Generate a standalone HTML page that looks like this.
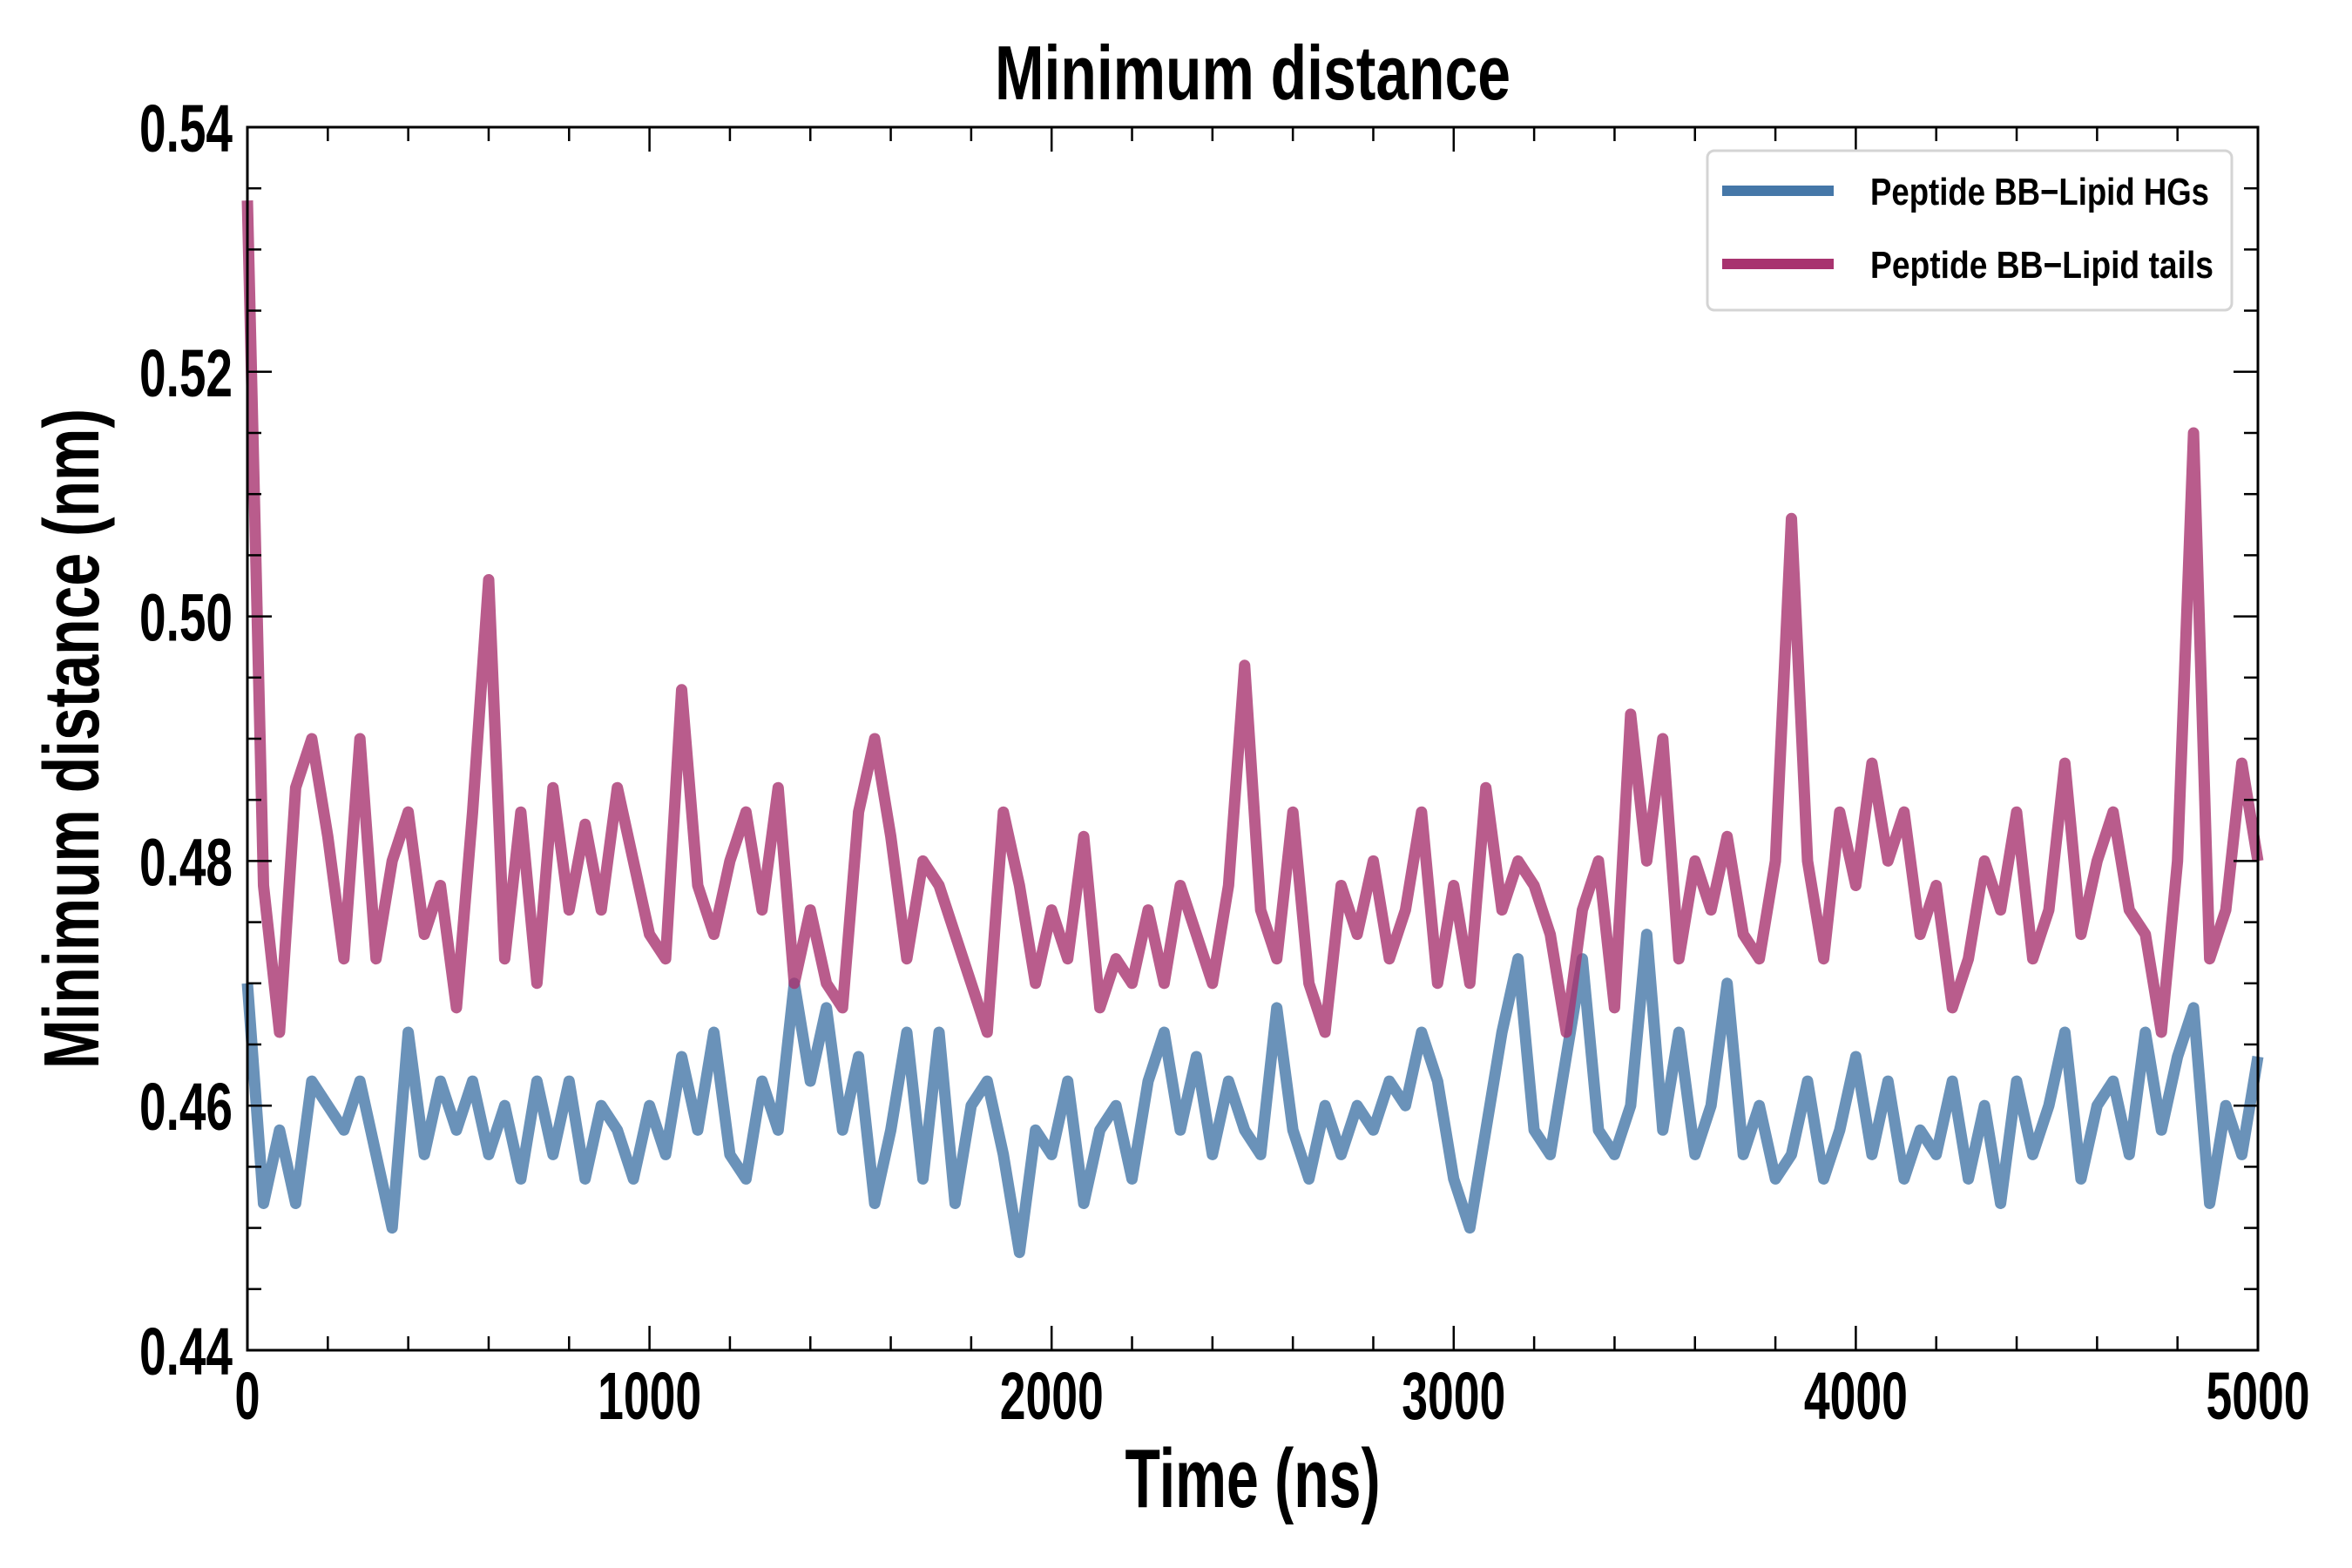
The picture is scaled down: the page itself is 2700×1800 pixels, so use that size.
<!DOCTYPE html>
<html><head><meta charset="utf-8"><style>
html,body{margin:0;padding:0;background:#fff;}
svg{display:block;}
text{font-family:"Liberation Sans",sans-serif;font-weight:bold;fill:#000;}
</style></head><body>
<svg id="chart" width="2700" height="1800" viewBox="0 0 2700 1800" xmlns="http://www.w3.org/2000/svg">
<rect width="2700" height="1800" fill="#fff"/>
<g id="series"></g>
<g id="axes"></g>
<text x="1438" y="114" font-size="88" text-anchor="middle" textLength="592" lengthAdjust="spacingAndGlyphs">Minimum distance</text>
<text x="1438" y="1730" font-size="96" text-anchor="middle" textLength="293" lengthAdjust="spacingAndGlyphs">Time (ns)</text>
<text x="0" y="0" font-size="90" text-anchor="middle" textLength="758" lengthAdjust="spacingAndGlyphs" transform="translate(113,848) rotate(-90)">Minimum distance (nm)</text>
<g>
<rect x="1960" y="173" width="602" height="183" rx="8" fill="#fff" stroke="#d4d4d4" stroke-width="3"/>
<line x1="1977" y1="219" x2="2105" y2="219" stroke="#4577a8" stroke-width="12"/>
<text x="2147" y="235" font-size="44" textLength="389" lengthAdjust="spacingAndGlyphs">Peptide BB−Lipid HGs</text>
<line x1="1977" y1="303" x2="2105" y2="303" stroke="#a8336f" stroke-width="12"/>
<text x="2147" y="319" font-size="44" textLength="394" lengthAdjust="spacingAndGlyphs">Peptide BB−Lipid tails</text>
</g>
</svg>
<script>
const xTicks = [0, 1000, 2000, 3000, 4000, 5000];
const yTicks = [0.44, 0.46, 0.48, 0.50, 0.52, 0.54];
const yTickLabels = ["0.44", "0.46", "0.48", "0.50", "0.52", "0.54"];
const timeStart = 0;
const timeEnd = 5000;
const tailsValues = [0.534,0.478,0.466,0.486,0.49,0.482,0.472,0.49,0.472,0.48,0.484,0.474,0.478,0.468,0.484,0.503,0.472,0.484,0.47,0.486,0.476,0.483,0.476,0.486,0.48,0.474,0.472,0.494,0.478,0.474,0.48,0.484,0.476,0.486,0.47,0.476,0.47,0.468,0.484,0.49,0.482,0.472,0.48,0.478,0.474,0.47,0.466,0.484,0.478,0.47,0.476,0.472,0.482,0.468,0.472,0.47,0.476,0.47,0.478,0.474,0.47,0.478,0.496,0.476,0.472,0.484,0.47,0.466,0.478,0.474,0.48,0.472,0.476,0.484,0.47,0.478,0.47,0.486,0.476,0.48,0.478,0.474,0.466,0.476,0.48,0.468,0.492,0.48,0.49,0.472,0.48,0.476,0.482,0.474,0.472,0.48,0.508,0.48,0.472,0.484,0.478,0.488,0.48,0.484,0.474,0.478,0.468,0.472,0.48,0.476,0.484,0.472,0.476,0.488,0.474,0.48,0.484,0.476,0.474,0.466,0.48,0.515,0.472,0.476,0.488,0.48];
const hgsValues = [0.47,0.452,0.458,0.452,0.462,0.46,0.458,0.462,0.456,0.45,0.466,0.456,0.462,0.458,0.462,0.456,0.46,0.454,0.462,0.456,0.462,0.454,0.46,0.458,0.454,0.46,0.456,0.464,0.458,0.466,0.456,0.454,0.462,0.458,0.47,0.462,0.468,0.458,0.464,0.452,0.458,0.466,0.454,0.466,0.452,0.46,0.462,0.456,0.448,0.458,0.456,0.462,0.452,0.458,0.46,0.454,0.462,0.466,0.458,0.464,0.456,0.462,0.458,0.456,0.468,0.458,0.454,0.46,0.456,0.46,0.458,0.462,0.46,0.466,0.462,0.454,0.45,0.458,0.466,0.472,0.458,0.456,0.464,0.472,0.458,0.456,0.46,0.474,0.458,0.466,0.456,0.46,0.47,0.456,0.46,0.454,0.456,0.462,0.454,0.458,0.464,0.456,0.462,0.454,0.458,0.456,0.462,0.454,0.46,0.452,0.462,0.456,0.46,0.466,0.454,0.46,0.462,0.456,0.466,0.458,0.464,0.468,0.452,0.46,0.456,0.464];

const NS = "http://www.w3.org/2000/svg";
const L = 284, R = 2592, T = 146, B = 1550;
const xMin = 0, xMax = 5000, yMin = 0.44, yMax = 0.54;
function xs(v){ return L + (v - xMin) / (xMax - xMin) * (R - L); }
function ys(v){ return B - (v - yMin) / (yMax - yMin) * (B - T); }

const seriesG = document.getElementById('series');
function drawSeries(vals, color, name){
  const n = vals.length;
  let d = '';
  for (let i = 0; i < n; i++){
    const t = timeStart + i * (timeEnd - timeStart) / (n - 1);
    d += (i ? 'L' : 'M') + xs(t).toFixed(1) + ',' + ys(vals[i]).toFixed(1);
  }
  const p = document.createElementNS(NS, 'path');
  p.setAttribute('d', d);
  p.setAttribute('fill', 'none');
  p.setAttribute('stroke', color);
  p.setAttribute('stroke-opacity', '0.8');
  p.setAttribute('stroke-width', '13');
  p.setAttribute('stroke-linejoin', 'round');
  
  
  seriesG.appendChild(p);
}
drawSeries(hgsValues, '#4577a8', 'line-lipid-hgs');
drawSeries(tailsValues, '#a8336f', 'line-lipid-tails');

const axesG = document.getElementById('axes');
function mk(tag, attrs){
  const e = document.createElementNS(NS, tag);
  for (const k in attrs) e.setAttribute(k, attrs[k]);
  axesG.appendChild(e);
  return e;
}
const frame = mk('rect', {x:L, y:T, width:R-L, height:B-T, fill:'none', stroke:'#000', 'stroke-width':3});



for (let v = xMin; v <= xMax; v += 200){
  const major = v % 1000 === 0;
  const len = major ? 28 : 16;
  const x = xs(v);
  const t1 = mk('line', {x1:x, y1:B, x2:x, y2:B-len, stroke:'#000', 'stroke-width':2.5});
  
  
  const t2 = mk('line', {x1:x, y1:T, x2:x, y2:T+len, stroke:'#000', 'stroke-width':2.5});
  
  
}
xTicks.forEach(v => {
  const tx = mk('text', {x:xs(v), y:1629, 'font-size':77, 'text-anchor':'middle'});
  tx.textContent = String(v);
  if (String(v).length === 4){ tx.setAttribute('textLength', 119); tx.setAttribute('lengthAdjust', 'spacingAndGlyphs'); }
  else { tx.setAttribute('textLength', 29); tx.setAttribute('lengthAdjust', 'spacingAndGlyphs'); }
  
  
});
for (let k = 0; k <= 20; k++){
  const v = yMin + k * 0.005;
  const major = k % 4 === 0;
  const len = major ? 28 : 16;
  const y = ys(v);
  const t1 = mk('line', {x1:L, y1:y, x2:L+len, y2:y, stroke:'#000', 'stroke-width':2.5});
  
  
  const t2 = mk('line', {x1:R, y1:y, x2:R-len, y2:y, stroke:'#000', 'stroke-width':2.5});
  
  
}
yTicks.forEach((v, i) => {
  const ty = mk('text', {x:267, y:ys(v)+28, 'font-size':77, 'text-anchor':'end', textLength:107, lengthAdjust:'spacingAndGlyphs'});
  ty.textContent = yTickLabels[i];
  
  
});
</script>
</body></html>
